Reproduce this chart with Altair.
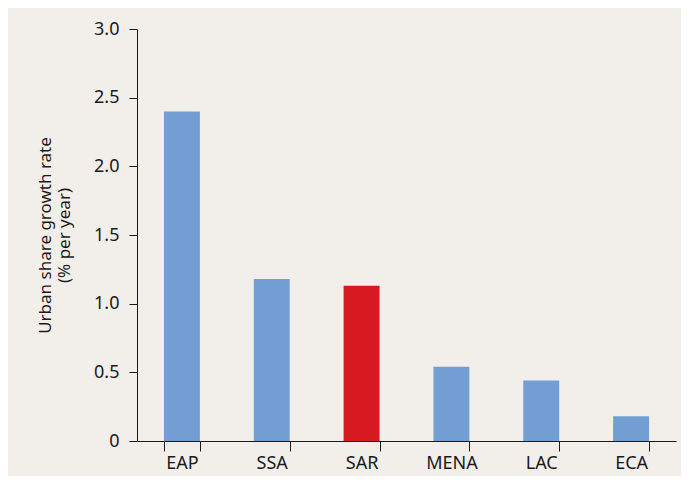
import altair as alt
import pandas as pd

regions = ["EAP", "SSA", "SAR", "MENA", "LAC", "ECA"]
values = [2.40, 1.18, 1.13, 0.54, 0.44, 0.18]
highlight = ["no", "no", "yes", "no", "no", "no"]

df = pd.DataFrame({"region": regions, "value": values, "hl": highlight})

FONT = "Noto Sans"

chart = alt.Chart(df).mark_bar().encode(
    x=alt.X(
        "region:N",
        sort=regions,
        scale=alt.Scale(paddingInner=0.6, paddingOuter=0.3),
        axis=alt.Axis(
            title=None,
            labelAngle=0,
            tickBand="extent",
            tickSize=10,
            tickColor="#1a1a1a",
            domainColor="#1a1a1a",
            labelFontSize=18,
            labelColor="#1a1a1a",
            labelFont=FONT,
            labelPadding=3,
        ),
    ),
    y=alt.Y(
        "value:Q",
        scale=alt.Scale(domain=[0, 3.0], nice=False),
        axis=alt.Axis(
            title=["Urban share growth rate", "(% per year)"],
            values=[0, 0.5, 1.0, 1.5, 2.0, 2.5, 3.0],
            labelExpr="datum.value == 0 ? '0' : format(datum.value, '.1f')",
            grid=False,
            tickSize=8,
            tickColor="#1a1a1a",
            domainColor="#1a1a1a",
            labelFontSize=18,
            labelColor="#1a1a1a",
            labelFont=FONT,
            labelPadding=10,
            titleFont=FONT,
            titleFontSize=17,
            titleFontWeight="normal",
            titleColor="#1a1a1a",
            titlePadding=20,
        ),
    ),
    color=alt.Color(
        "hl:N",
        scale=alt.Scale(domain=["no", "yes"], range=["#739ed3", "#d71a21"]),
        legend=None,
    ),
).properties(
    width=539,
    height=412,
    background="#f2efea",
    padding={"left": 129, "top": 21, "right": 5, "bottom": 35},
    autosize=alt.AutoSizeParams(type="none"),
).configure_view(stroke=None)

chart.save("out.html", embed_options={"renderer": "svg", "actions": False})
